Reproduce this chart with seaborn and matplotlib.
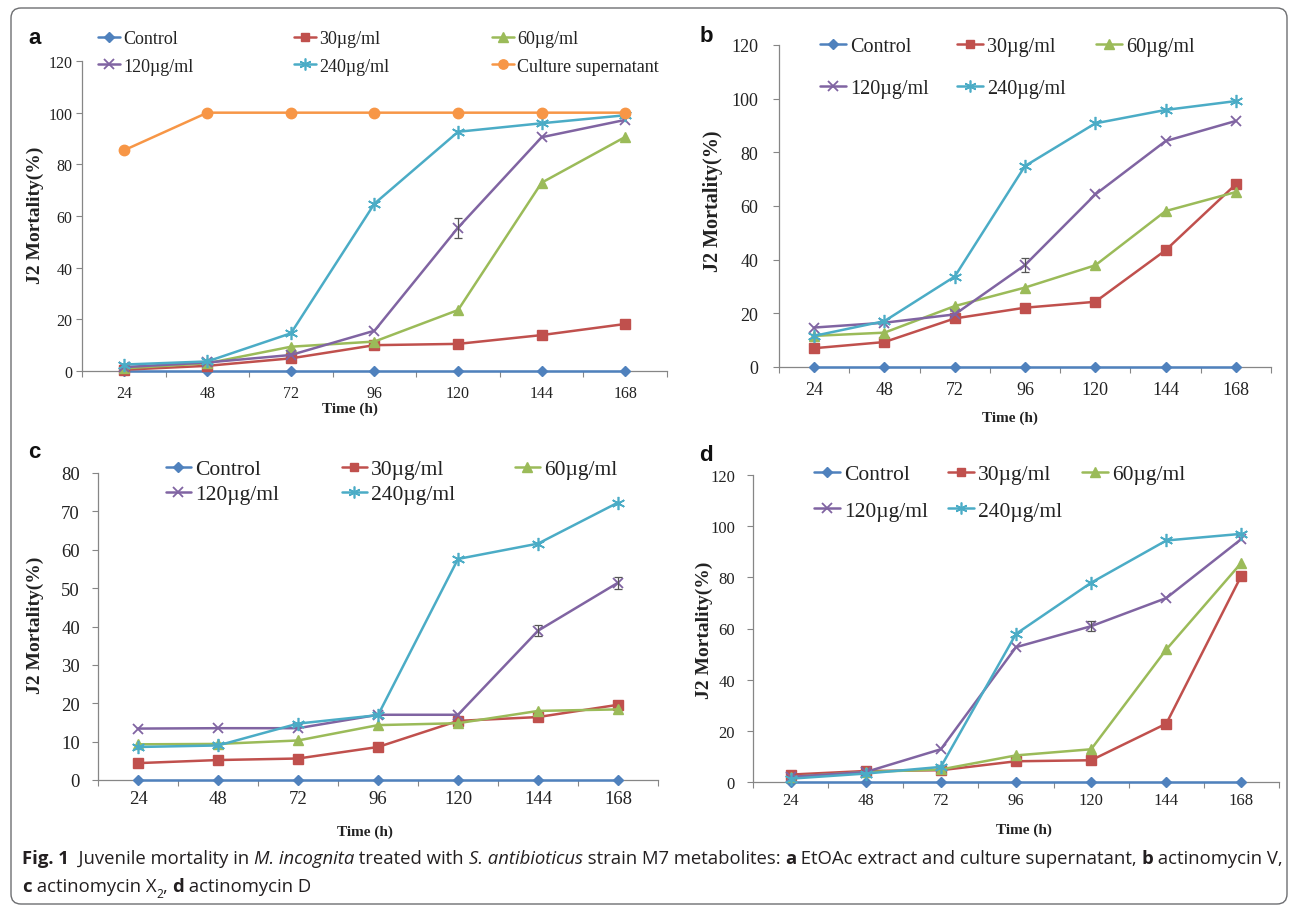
import matplotlib
matplotlib.use("Agg")
import matplotlib.pyplot as plt
import seaborn as sns
import numpy as np
import pandas as pd
from matplotlib.lines import Line2D
from matplotlib.patches import FancyBboxPatch

# ---------------- data ----------------
hours = [24, 48, 72, 96, 120, 144, 168]
labels = ["Control", "30µg/ml", "60µg/ml", "120µg/ml", "240µg/ml", "Culture supernatant"]

a_control = [0, 0, 0, 0, 0, 0, 0]
a_30 = [0.5, 2.0, 4.9, 10.0, 10.5, 13.9, 18.2]
a_60 = [1.0, 3.0, 9.4, 11.4, 23.6, 72.9, 90.6]
a_120 = [1.5, 3.3, 6.2, 15.6, 55.5, 90.5, 97.2]
a_240 = [2.5, 3.7, 14.6, 64.8, 92.6, 95.9, 99.0]
a_culture = [85.4, 100, 100, 100, 100, 100, 100]
a_120_err = [0, 0, 0, 0, 3.9, 0, 0]

b_control = [0, 0, 0, 0, 0, 0, 0]
b_30 = [7.0, 9.3, 18.1, 22.1, 24.3, 43.5, 68.1]
b_60 = [11.6, 12.8, 22.7, 29.6, 37.9, 58.1, 65.2]
b_120 = [14.7, 16.5, 19.6, 38.0, 64.3, 84.2, 91.7]
b_240 = [11.6, 17.1, 33.7, 74.9, 90.8, 95.8, 99.1]
b_120_err = [0, 0, 0, 2.5, 0, 0, 0]

c_control = [0, 0, 0, 0, 0, 0, 0]
c_30 = [4.4, 5.2, 5.6, 8.6, 15.4, 16.4, 19.6]
c_60 = [9.3, 9.4, 10.3, 14.3, 14.8, 18.0, 18.4]
c_120 = [13.4, 13.5, 13.5, 17.0, 17.0, 38.9, 51.4]
c_240 = [8.6, 9.0, 14.7, 16.9, 57.6, 61.6, 72.3]
c_120_err = [0, 0, 0, 0, 0, 1.5, 1.5]

d_control = [0, 0, 0, 0, 0, 0, 0]
d_30 = [2.9, 4.3, 4.6, 8.1, 8.5, 22.8, 80.7]
d_60 = [2.0, 3.9, 4.9, 10.4, 12.8, 51.8, 85.7]
d_120 = [2.0, 3.9, 12.8, 52.7, 60.9, 71.9, 95.0]
d_240 = [1.3, 3.3, 5.9, 57.9, 77.9, 94.4, 97.0]
d_120_err = [0, 0, 0, 0, 2.0, 0, 0]

y_label = "J2 Mortality(%)"
x_label = "Time (h)"
panel_letters = ["a", "b", "c", "d"]

# ---------------- styling ----------------
sns.set_style("white")
plt.rcParams["font.family"] = ["Liberation Serif", "DejaVu Serif"]

W, H = 1296, 912
fig = plt.figure(figsize=(W / 100, H / 100), dpi=100)

colors = ["#4F81BD", "#C0504D", "#9BBB59", "#8064A2", "#4BACC6", "#F79646"]
markers = ["D", "s", "^", "x", (6, 2, 0), "o"]
msizes = [5.5, 7, 7.5, 7.5, 9.5, 7.5]
mews = [1, 1, 1, 1.3, 1.2, 1]
axis_grey = "#868686"


def px_rect(left, right, top, bottom):
    return [left / W, 1 - bottom / H, (right - left) / W, (bottom - top) / H]


panels = [
    dict(letter="a", series=[a_control, a_30, a_60, a_120, a_240, a_culture], err=a_120_err,
         rect=px_rect(82, 667, 62, 372), ymax=120, ystep=20, tick_fs=11.5, ypad=3, xpad=10,
         leg_x=[98, 294, 492], leg_y=[40, 67], leg_fs=13, hl=1.2,
         letter_xy=(35, 38), ylab_xy=(35, 215), ylab_fs=14, xlab_xy=(350, 409), xlab_fs=11),
    dict(letter="b", series=[b_control, b_30, b_60, b_120, b_240], err=b_120_err,
         rect=px_rect(779, 1271, 46, 368), ymax=120, ystep=20, tick_fs=13, ypad=11, xpad=10,
         leg_x=[820, 957, 1096], leg_y=[47, 89], leg_fs=14.5, hl=1.3,
         letter_xy=(706, 36), ylab_xy=(713, 201), ylab_fs=14.5, xlab_xy=(1010, 418), xlab_fs=11),
    dict(letter="c", series=[c_control, c_30, c_60, c_120, c_240], err=c_120_err,
         rect=px_rect(98, 658, 474, 781), ymax=80, ystep=10, tick_fs=13.5, ypad=9, xpad=7,
         leg_x=[166, 342, 515], leg_y=[470, 495], leg_fs=15.5, hl=1.15,
         letter_xy=(34, 453), ylab_xy=(35, 625), ylab_fs=14, xlab_xy=(365, 832), xlab_fs=11),
    dict(letter="d", series=[d_control, d_30, d_60, d_120, d_240], err=d_120_err,
         rect=px_rect(753, 1279, 476, 783), ymax=120, ystep=20, tick_fs=12, ypad=9, xpad=7,
         leg_x=[814, 948, 1082], leg_y=[475, 512], leg_fs=15.5, hl=1.2,
         letter_xy=(706, 456), ylab_xy=(704, 630), ylab_fs=14, xlab_xy=(1024, 830), xlab_fs=11),
]

for p in panels:
    ax = fig.add_axes(p["rect"])
    n = len(p["series"])
    df = pd.concat([
        pd.DataFrame({"hour": hours, "mortality": vals, "treatment": labels[i]})
        for i, vals in enumerate(p["series"])
    ], ignore_index=True)
    for i in range(n):
        sub = df[df["treatment"] == labels[i]]
        sns.lineplot(data=sub, x="hour", y="mortality", ax=ax, color=colors[i],
                     marker=markers[i], markersize=msizes[i], markeredgecolor=colors[i],
                     markerfacecolor=colors[i], markeredgewidth=mews[i],
                     linewidth=1.8, errorbar=None, legend=False, zorder=3 + i,
                     clip_on=False)
    err = np.array(p["err"], dtype=float)
    mask = err > 0
    ax.errorbar(np.array(hours)[mask], np.array(p["series"][3])[mask], yerr=err[mask],
                fmt="none", ecolor="#555555", elinewidth=0.9, capsize=3, capthick=0.9,
                zorder=20)

    ax.set_xlim(12, 180)
    ax.set_ylim(0, p["ymax"])
    ax.set_xticks(hours)
    ax.set_xticklabels([str(h) for h in hours])
    ax.set_xticks(np.arange(12, 181, 24), minor=True)
    ax.set_yticks(np.arange(0, p["ymax"] + 1, p["ystep"]))
    ax.tick_params(axis="x", which="major", length=0, pad=p["xpad"], labelsize=p["tick_fs"],
                   colors="#222222")
    ax.tick_params(axis="x", which="minor", length=4, width=0.8, color=axis_grey, direction="out",
                   bottom=True)
    ax.tick_params(axis="y", which="major", length=4, width=0.8, color=axis_grey, direction="out",
                   left=True, pad=p["ypad"], labelsize=p["tick_fs"], labelcolor="#222222")
    for s in ["top", "right"]:
        ax.spines[s].set_visible(False)
    for s in ["left", "bottom"]:
        ax.spines[s].set_color(axis_grey)
        ax.spines[s].set_linewidth(0.9)
    ax.set_xlabel("")
    ax.set_ylabel("")
    ax.set_facecolor("none")

    # axis titles
    fig.text(p["ylab_xy"][0] / W, 1 - p["ylab_xy"][1] / H, y_label, rotation=90,
             ha="center", va="center", fontsize=p["ylab_fs"], fontweight="bold", color="#222222")
    fig.text(p["xlab_xy"][0] / W, 1 - p["xlab_xy"][1] / H, x_label,
             ha="center", va="center", fontsize=p["xlab_fs"], fontweight="bold", color="#222222")
    # panel letter
    fig.text(p["letter_xy"][0] / W, 1 - p["letter_xy"][1] / H, p["letter"],
             ha="center", va="center", fontsize=16, fontweight="bold",
             family=["Liberation Sans", "DejaVu Sans"], color="#111111")

    # legend entries (row-major grid like the original)
    for i in range(n):
        row, col = divmod(i, 3)
        h = Line2D([0], [0], color=colors[i], marker=markers[i], markersize=msizes[i] * 0.9,
                   markeredgecolor=colors[i], markerfacecolor=colors[i],
                   markeredgewidth=mews[i], linewidth=1.8)
        fig.legend([h], [labels[i]], loc="center left",
                   bbox_to_anchor=(p["leg_x"][col] / W, 1 - p["leg_y"][row] / H),
                   frameon=False, borderpad=0, borderaxespad=0, handlelength=p["hl"],
                   handletextpad=0.2, fontsize=p["leg_fs"], labelcolor="#222222")

# ---------------- frame ----------------
box = FancyBboxPatch((11, 7), 1276, 896, boxstyle="round,pad=0,rounding_size=10",
                     transform=None, facecolor="none", edgecolor="#6d6e71", linewidth=1.0,
                     zorder=0)
fig.patches.append(box)

# ---------------- caption ----------------
cap_family = ["Liberation Sans Narrow", "Open Sans", "DejaVu Sans"]
cap_color = "#231f20"
line1 = [("Fig. 1", "bold"), ("  Juvenile mortality in ", "normal"), ("M. incognita", "italic"),
         (" treated with ", "normal"), ("S. antibioticus", "italic"),
         (" strain M7 metabolites: ", "normal"), ("a", "bold"),
         (" EtOAc extract and culture supernatant, ", "normal"), ("b", "bold"),
         (" actinomycin V,", "normal")]
line2 = [("c", "bold"), (" actinomycin X", "normal"), ("2", "sub"), (", ", "normal"),
         ("d", "bold"), (" actinomycin D", "normal")]

renderer = fig.canvas.get_renderer()


def draw_line(pieces, x0, y, size, draw=True):
    """Draw text pieces left to right; x0, y in pixels from the top-left corner."""
    x = x0
    made = []
    for txt, st in pieces:
        kw = dict(fontsize=size, family=cap_family, color=cap_color, va="baseline", ha="left")
        yy = y
        if st == "bold":
            kw["fontweight"] = "bold"
        elif st == "italic":
            kw["fontstyle"] = "italic"
        elif st == "sub":
            kw["fontsize"] = size * 0.65
            yy = y + size * 0.45
        t = fig.text(0, 0, txt, **kw)
        t.set_transform(None)
        t.set_position((x, H - yy))
        bb = t.get_window_extent(renderer)
        x += bb.width
        made.append(t)
    if not draw:
        for t in made:
            t.remove()
    return x - x0


target_w = 1283 - 22
w10 = draw_line(line1, 22, 864, 10, draw=False)
cap_size = 10 * target_w / w10
draw_line(line1, 22, 864, cap_size)
draw_line(line2, 22, 892, cap_size)

fig.savefig("out.png", dpi=100)
